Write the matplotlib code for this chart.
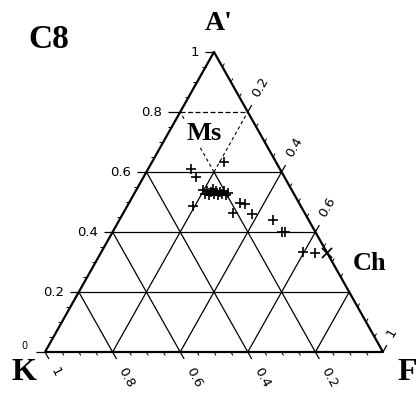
import matplotlib
matplotlib.use("Agg")
import matplotlib.pyplot as plt
from matplotlib.transforms import offset_copy

# A'KF compositions as fractions; K = 1 - A' - F
a_prime = [0.633, 0.610, 0.583, 0.487, 0.497, 0.493, 0.463, 0.460, 0.440,
           0.400, 0.400, 0.333, 0.330,
           0.540, 0.527, 0.537, 0.523, 0.533, 0.543, 0.527, 0.537, 0.523,
           0.533, 0.527, 0.537, 0.523, 0.530]
f_frac = [0.213, 0.127, 0.155, 0.195, 0.329, 0.345, 0.324, 0.382, 0.455,
          0.501, 0.510, 0.597, 0.634,
          0.197, 0.210, 0.211, 0.224, 0.225, 0.226, 0.237, 0.238, 0.251,
          0.252, 0.261, 0.262, 0.274, 0.276]

# chlorite reference point on the A'-F join
ch_a_prime = 0.33
ch_f = 0.67

grid_levels = [0.2, 0.4, 0.6, 0.8]
left_ticks = [0.0, 0.2, 0.4, 0.6, 0.8, 1.0]
left_labels = ["0", "0.2", "0.4", "0.6", "0.8", "1"]
bottom_ticks = [1.0, 0.8, 0.6, 0.4, 0.2]          # K fraction
bottom_labels = ["1", "0.8", "0.6", "0.4", "0.2"]
right_ticks = [0.2, 0.4, 0.6, 1.0]                # F fraction
right_labels = ["0.2", "0.4", "0.6", "1"]

W_PX, H_PX = 338.0, 300.0   # triangle base and height in pixels


def tern(a, f):
    """A', F fractions -> cartesian position in the triangle axes."""
    return f + a / 2.0, a


fig = plt.figure(figsize=(4.17, 3.94), dpi=100)
ax = fig.add_axes([45 / 417, 42 / 394, W_PX / 417, H_PX / 394])
ax.set_xlim(0, 1)
ax.set_ylim(0, 1)
ax.axis("off")

LINE = dict(color="black", clip_on=False, solid_capstyle="butt")

# outline
ax.plot([0, 1, 0.5, 0], [0, 0, 1, 0], lw=1.6, **LINE)


def px_left(n):
    return n / W_PX


# per-pixel steps (in data units) along the two sloping sides
up_right = (0.5 / 344.0, 1 / 344.0)
down_right = (0.5 / 344.0, -1 / 344.0)

for v in grid_levels:
    dashed = v > 0.7
    # constant A'
    x0, y0 = tern(v, 0.0)
    x1, y1 = tern(v, 1.0 - v)
    ax.plot([x0, x1], [y0, y1], lw=0.9, ls=(0, (4, 2)) if dashed else "-", **LINE)
    # constant F (parallel to K-A' side)
    xa, ya = tern(0.0, v)
    xb, yb = tern(min(1.0 - v, 0.6), v)
    ax.plot([xa, xb], [ya, yb], lw=0.9, **LINE)
    if 1.0 - v > 0.6:
        xc, yc = tern(1.0 - v, v)
        ax.plot([xb, xc], [yb, yc], lw=0.8, ls=(0, (3, 2.5)), **LINE)
    # constant K (parallel to A'-F side)
    k = v
    xa, ya = tern(0.0, 1.0 - k)
    amax = min(1.0 - k, 0.6)
    xb, yb = tern(amax, 1.0 - k - amax)
    ax.plot([xa, xb], [ya, yb], lw=0.9, **LINE)
    if 1.0 - k > 0.6:
        xc, yc = tern(1.0 - k, 0.0)
        ax.plot([xb, xc], [yb, yc], lw=0.8, ls=(0, (3, 2.5)), **LINE)

# minor ticks every 0.05
for i in range(1, 20):
    t = i * 0.05
    if abs(t / 0.2 - round(t / 0.2)) < 1e-6:
        continue
    x, y = tern(t, 0.0)
    ax.plot([x, x - px_left(4)], [y, y], lw=0.7, **LINE)
    x, y = tern(0.0, 1.0 - t)
    ax.plot([x, x + down_right[0] * 4], [y, y + down_right[1] * 4], lw=0.7, **LINE)
    x, y = tern(1.0 - t, t)
    ax.plot([x, x + up_right[0] * 4], [y, y + up_right[1] * 4], lw=0.7, **LINE)

tick_font = dict(family="DejaVu Sans", fontsize=9.5, color="black")

# left (A') scale
for v, lab in zip(left_ticks, left_labels):
    x, y = tern(v, 0.0)
    ext = 12 if abs(v - 0.8) < 1e-6 else 9
    ax.plot([x, x - px_left(ext)], [y, y], lw=0.9, **LINE)
    if v > 0:
        tr = offset_copy(ax.transData, fig=fig, x=-(ext + 6), y=0, units="dots")
        ax.text(x, y, lab, transform=tr, ha="right", va="center", **tick_font)
    else:
        tr = offset_copy(ax.transData, fig=fig, x=-(ext + 9), y=1, units="dots")
        ax.text(x, y, lab, transform=tr, ha="right", va="bottom",
                fontsize=7, family="DejaVu Sans")

# bottom (K) scale
for k, lab in zip(bottom_ticks, bottom_labels):
    x, y = tern(0.0, 1.0 - k)
    ax.plot([x, x + down_right[0] * 8], [y, y + down_right[1] * 8], lw=0.9, **LINE)
    tr = offset_copy(ax.transData, fig=fig, x=9.0, y=-16.0, units="dots")
    ax.text(x, y, lab, transform=tr, ha="left", va="center", rotation=-62,
            rotation_mode="anchor", **tick_font)

# right (F) scale
for f, lab in zip(right_ticks, right_labels):
    x, y = tern(1.0 - f, f)
    ax.plot([x, x + up_right[0] * 8], [y, y + up_right[1] * 8], lw=0.9, **LINE)
    tr = offset_copy(ax.transData, fig=fig, x=7.0, y=16.0, units="dots")
    ax.text(x, y, lab, transform=tr, ha="left", va="center", rotation=60,
            rotation_mode="anchor", **tick_font)

# sample compositions
xs, ys = zip(*[tern(a, f) for a, f in zip(a_prime, f_frac)])
ax.plot(xs, ys, ls="none", marker="+", ms=7.5, mew=1.2, color="black",
        clip_on=False, zorder=4)

cx, cy = tern(ch_a_prime, ch_f)
ax.plot([cx], [cy], ls="none", marker="x", ms=7, mew=1.3, color="black",
        clip_on=False, zorder=4)

serif = dict(family="Liberation Serif", fontweight="bold", color="black")
fig.text(49 / 417, 1 - 40 / 394, "C8", ha="center", va="center", fontsize=24, **serif)
fig.text(219 / 417, 1 - 24 / 394, "A'", ha="center", va="center", fontsize=20, **serif)
fig.text(24 / 417, 1 - 373 / 394, "K", ha="center", va="center", fontsize=23, **serif)
fig.text(407 / 417, 1 - 373 / 394, "F", ha="center", va="center", fontsize=23, **serif)
fig.text(204 / 417, 1 - 134 / 394, "Ms", ha="center", va="center", fontsize=19,
         bbox=dict(facecolor="white", edgecolor="none", pad=1.0), zorder=3, **serif)
fig.text(370 / 417, 1 - 263 / 394, "Ch", ha="center", va="center", fontsize=19, **serif)

fig.savefig("out.png", dpi=100, facecolor="white")
